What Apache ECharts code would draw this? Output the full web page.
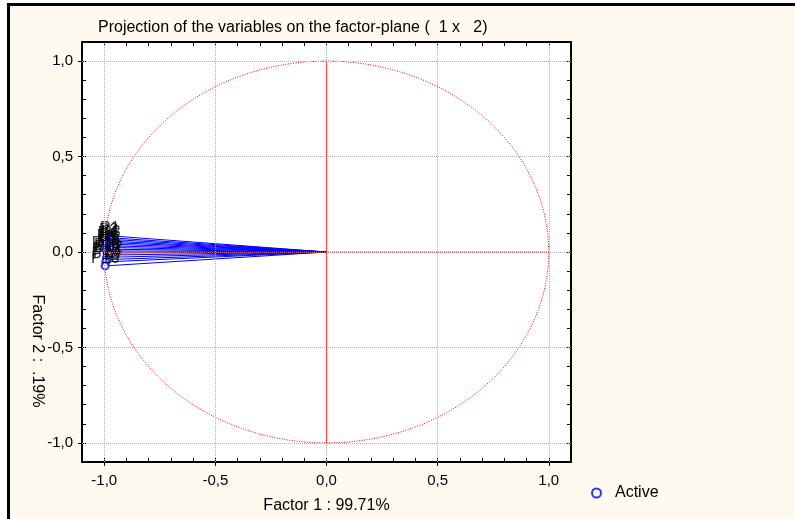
<!DOCTYPE html>
<html>
<head>
<meta charset="utf-8">
<script src="https://cdn.jsdelivr.net/npm/echarts@6/dist/echarts.min.js"></script>
<style>
  body{margin:0;background:#fff;}
  #frame{position:absolute;left:7px;top:3px;width:788px;height:516px;box-sizing:border-box;
         border-top:3px solid #000;border-left:3px solid #000;background:#fef9ee;}
  #main{position:absolute;left:0;top:0;width:795px;height:519px;}
</style>
</head>
<body>
<div id="frame"></div>
<div id="main"></div>
<script>
// variable coordinates on factor 1 / factor 2
var varNames = ['P1','P2','P3','P4','P5','P6','P7','P8','P9','P10','P11','P12','P13','P14','P15','P16'];
var factor1 = [-0.975,-0.980,-0.970,-0.985,-0.978,-0.990,-0.982,-0.975,-0.988,-0.992,-0.985,-0.980,-0.990,-0.987,-0.993,-0.996];
var factor2 = [0.085,0.075,0.066,0.058,0.050,0.042,0.033,0.024,0.015,0.006,-0.005,-0.016,-0.028,-0.040,-0.052,-0.073];
var majorTicks = [-1,-0.5,0,0.5,1];
var axisMin = -1.1, axisMax = 1.1;

var FONT = "'Liberation Sans', Arial, sans-serif";
var chart = echarts.init(document.getElementById('main'));

function fmt(v){
  return (Math.abs(v) < 1e-9 ? 0 : v).toFixed(1).replace('.', ',');
}

var pts = [], vecs = [];
for (var i = 0; i < varNames.length; i++) {
  pts.push({name: varNames[i], value: [factor1[i], factor2[i]]});
  vecs.push({coords: [[0, 0], [factor1[i], factor2[i]]]});
}

var gridMarks = [];
majorTicks.forEach(function(v){ gridMarks.push({xAxis: v}); gridMarks.push({yAxis: v}); });

function minorAxis(pos, showLine){
  return {
    type: 'value', position: pos, min: axisMin, max: axisMax, interval: 0.1,
    axisLine: {show: showLine, onZero: false, lineStyle: {color: '#000', width: 2}},
    axisLabel: {show: false}, splitLine: {show: false},
    axisTick: {show: true, inside: true, length: 4, lineStyle: {color: '#000'}}
  };
}

var redDotted = {color: '#ff0000', type: 'dotted', width: 1};

var option = {
  animation: false,
  textStyle: {fontFamily: FONT},
  title: {
    text: 'Projection of the variables on the factor-plane (  1 x   2)',
    left: 93, top: 15,
    textStyle: {fontSize: 16, fontWeight: 'normal', color: '#000', fontFamily: FONT}
  },
  legend: {
    data: ['Active'], left: 586, top: 480, itemWidth: 9, itemHeight: 9,
    itemStyle: {borderWidth: 1},
    textStyle: {fontSize: 16, color: '#000', fontFamily: FONT, padding: [0, 0, 0, 9]}
  },
  grid: {left: 82, right: 224, top: 42, bottom: 56, show: true, backgroundColor: '#fff', borderWidth: 0},
  xAxis: [
    {type: 'value', position: 'bottom', min: axisMin, max: axisMax,
     name: 'Factor 1 : 99.71%', nameLocation: 'middle', nameGap: 36,
     nameTextStyle: {fontSize: 16, color: '#000', fontFamily: FONT},
     axisLine: {show: true, onZero: false, lineStyle: {color: '#000', width: 2}},
     axisTick: {show: true, inside: false, length: 4, customValues: majorTicks, lineStyle: {color: '#000'}},
     axisLabel: {customValues: majorTicks, formatter: fmt, fontSize: 15, color: '#000', margin: 11, fontFamily: FONT},
     splitLine: {show: false}},
    minorAxis('bottom', false),
    minorAxis('top', true)
  ],
  yAxis: [
    {type: 'value', position: 'left', min: axisMin, max: axisMax,
     axisLine: {show: true, onZero: false, lineStyle: {color: '#000', width: 2}},
     axisTick: {show: true, inside: false, length: 4, customValues: majorTicks, lineStyle: {color: '#000'}},
     axisLabel: {customValues: majorTicks, formatter: fmt, fontSize: 15, color: '#000', margin: 9, fontFamily: FONT},
     splitLine: {show: false}},
    minorAxis('left', false),
    minorAxis('right', true)
  ],
  graphic: [{
    type: 'text', x: 37, y: 351, rotation: -Math.PI / 2,
    style: {text: 'Factor 2 :  .19%', fill: '#000', font: '16px ' + FONT,
            align: 'center', verticalAlign: 'middle'}
  }],
  series: [
    {
      name: 'grid', type: 'line', data: [], z: 1, silent: true,
      markLine: {silent: true, symbol: 'none', label: {show: false},
        lineStyle: {color: '#b0b0b0', type: 'dotted', width: 1}, data: gridMarks}
    },
    {
      name: 'circle', type: 'custom', data: [[0, 0]], z: 2, silent: true,
      renderItem: function(params, api){
        var p = [];
        for (var a = 0; a <= 360; a += 2) {
          var t = a * Math.PI / 180;
          p.push(api.coord([Math.cos(t), Math.sin(t)]));
        }
        return {type: 'polyline', shape: {points: p},
          style: {stroke: '#ff0000', fill: null, lineWidth: 1, lineDash: [1, 1.5]}};
      }
    },
    {
      name: 'hAxis', type: 'line', z: 5, silent: true, showSymbol: false,
      lineStyle: redDotted, data: [[-1, 0], [1, 0]]
    },
    {
      name: 'vAxis', type: 'line', z: 5, silent: true, showSymbol: false,
      lineStyle: redDotted, data: [[0, -1], [0, 1]]
    },
    {
      name: 'vectors', type: 'lines', coordinateSystem: 'cartesian2d', z: 3, silent: true,
      lineStyle: {color: '#0000ff', width: 1, opacity: 1},
      data: vecs
    },
    {
      name: 'Active', type: 'scatter', symbol: 'emptyCircle', symbolSize: 7, z: 4,
      itemStyle: {color: '#0000ff', borderColor: '#0000ff', borderWidth: 1},
      label: {show: true, position: 'inside', offset: [0, -7], formatter: '{b}', fontSize: 16,
              color: '#000', fontFamily: FONT},
      data: pts
    }
  ]
};
chart.setOption(option);
</script>
</body>
</html>
